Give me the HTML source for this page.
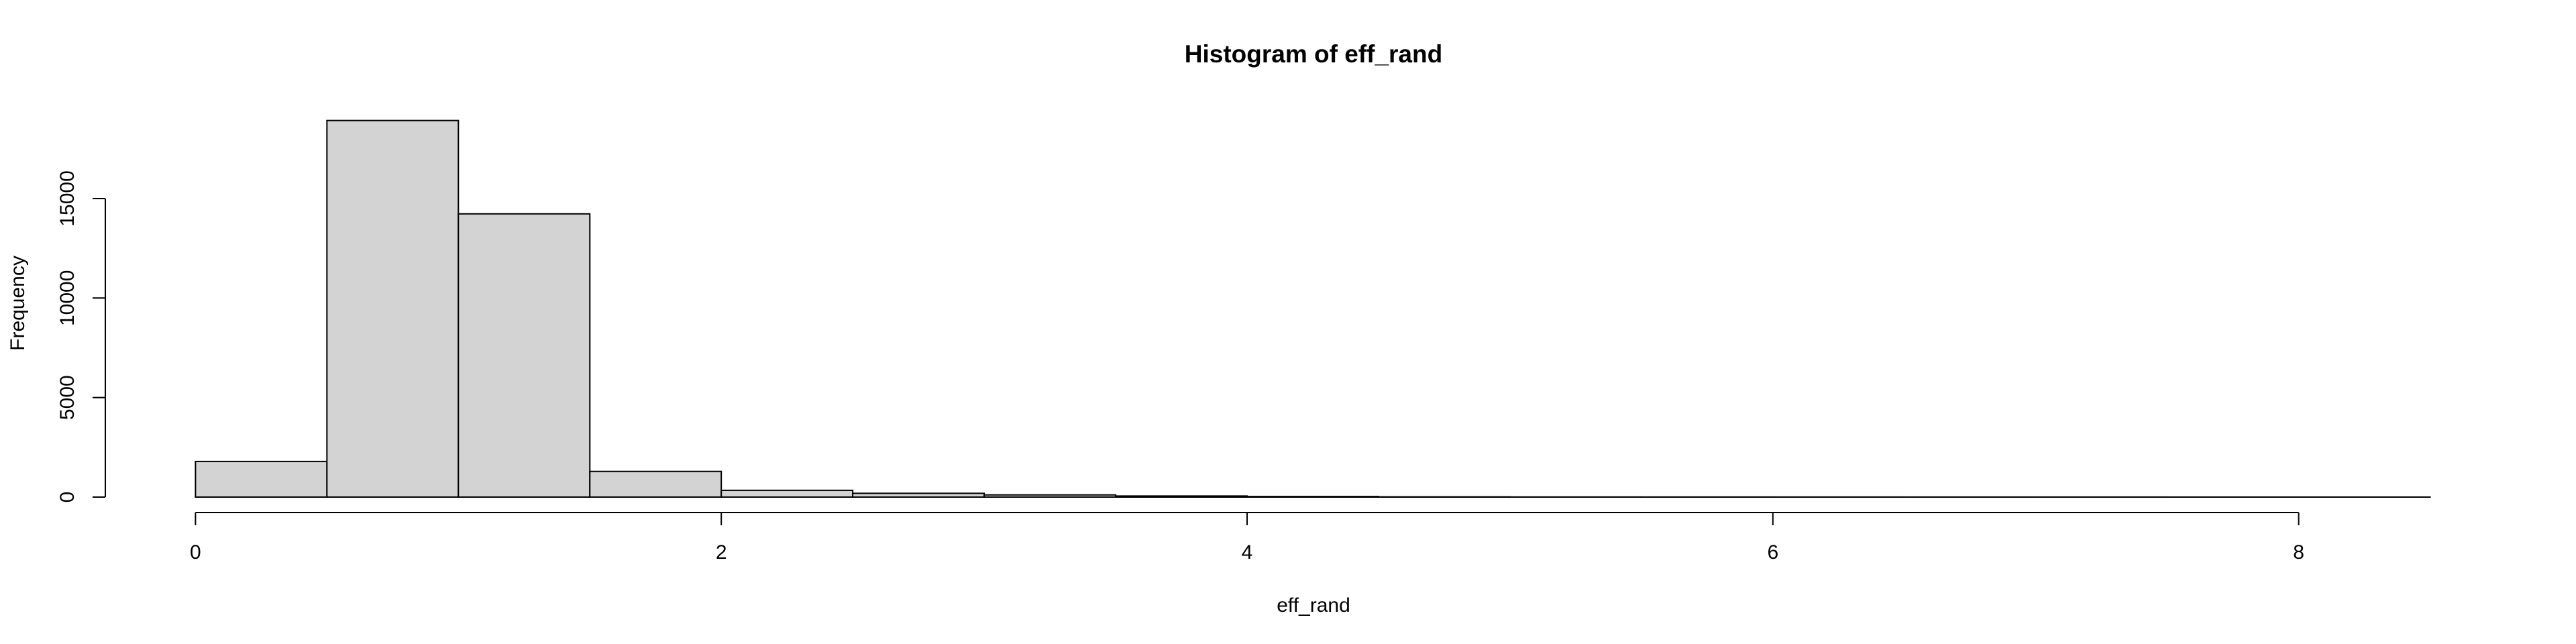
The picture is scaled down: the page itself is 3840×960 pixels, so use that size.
<!DOCTYPE html>
<html><head><meta charset="utf-8"><style>
html,body{margin:0;padding:0;background:#fff;}
svg{display:block;font-family:"Liberation Sans",Arial,sans-serif;}
</style></head><body>
<svg id="chart" width="3840" height="960" viewBox="0 0 3840 960">
<text x="1958" y="93" text-anchor="middle" font-size="37" font-weight="bold">Histogram of eff_rand</text>
<g id="bars"></g>
<g id="yaxis"></g>
<g id="xaxis"></g>
<text transform="translate(36,452) rotate(-90)" text-anchor="middle" font-size="30">Frequency</text>
<text x="1958" y="912" text-anchor="middle" font-size="30">eff_rand</text>
</svg>
<script>
const binStarts = [0,0.5,1,1.5,2,2.5,3,3.5,4,4.5,5,5.5,6,6.5,7,7.5,8];
const counts = [1790,18920,14230,1290,340,190,110,55,30,12,6,4,3,2,2,1,1];
const binWidth = 0.5;
const xTicks = [0,2,4,6,8];
const yTicks = [0,5000,10000,15000];
const NS = "http://www.w3.org/2000/svg";
function sx(v){return 291.4 + v*391.9;}
function sy(v){return 741 - v*0.02967;}
function mk(tag, attrs, parent){const e=document.createElementNS(NS,tag);for(const k in attrs)e.setAttribute(k,attrs[k]);parent.appendChild(e);return e;}
const bars=document.getElementById('bars');
binStarts.forEach((b,i)=>{
  const x0=sx(b),x1=sx(b+binWidth),y=sy(counts[i]);
  const r=mk('rect',{x:x0,y:y,width:x1-x0,height:sy(0)-y,fill:'#d3d3d3',stroke:'#000','stroke-width':2},bars);
  
  
});
const ya=document.getElementById('yaxis');
mk('line',{x1:157,x2:157,y1:sy(yTicks[0]),y2:sy(yTicks[yTicks.length-1]),stroke:'#000','stroke-width':2},ya);
yTicks.forEach(t=>{
  mk('line',{x1:138,x2:157,y1:sy(t),y2:sy(t),stroke:'#000','stroke-width':2},ya);
  const tx=mk('text',{transform:'translate(110,'+sy(t)+') rotate(-90)','text-anchor':'middle','font-size':30},ya);
  tx.textContent=t;
  
  
});
const xa=document.getElementById('xaxis');
mk('line',{x1:sx(xTicks[0]),x2:sx(xTicks[xTicks.length-1]),y1:764,y2:764,stroke:'#000','stroke-width':2},xa);
xTicks.forEach(t=>{
  mk('line',{x1:sx(t),x2:sx(t),y1:764,y2:783,stroke:'#000','stroke-width':2},xa);
  const tx=mk('text',{x:sx(t),y:833,'text-anchor':'middle','font-size':30},xa);
  tx.textContent=t;
  
  
});
</script>
</body></html>
